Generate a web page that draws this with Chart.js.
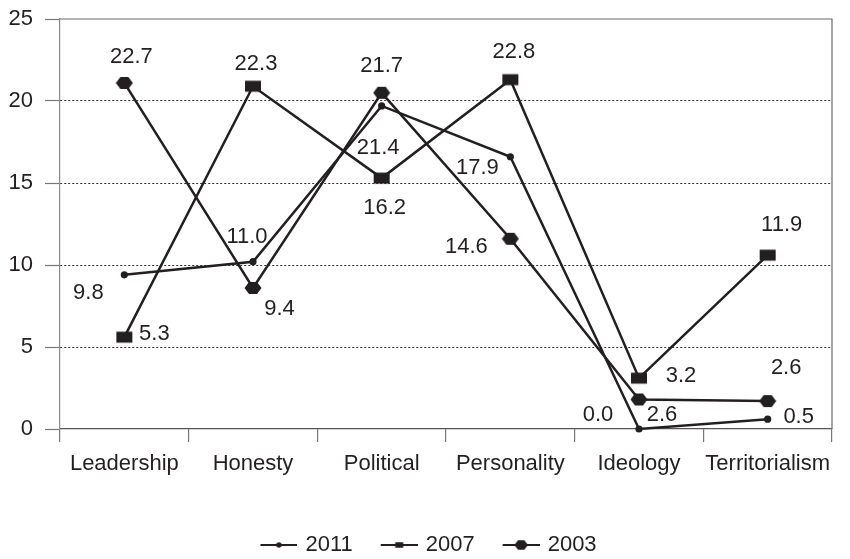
<!DOCTYPE html>
<html><head><meta charset="utf-8">
<script src="https://cdn.jsdelivr.net/npm/chart.js@4"></script>
<style>html,body{margin:0;padding:0;background:#fff;overflow:hidden}#wrap{width:850px;height:559px}</style>
</head><body><div id="wrap"><canvas id="c" width="850" height="559"></canvas></div>
<script>
// ---- data ----
const categories = ['Leadership', 'Honesty', 'Political', 'Personality', 'Ideology', 'Territorialism'];
const seriesNames = ['2011', '2007', '2003'];
const values2011 = [9.4, 10.2, 19.7, 16.6, 0.0, 0.6];
const values2007 = [5.6, 20.9, 15.3, 21.3, 3.1, 10.6];
const values2003 = [21.1, 8.6, 20.5, 11.6, 1.8, 1.7];
const labels2011 = ['9.8', '11.0', '21.4', '17.9', '0.0', '0.5'];
const labels2007 = ['5.3', '22.3', '16.2', '22.8', '3.2', '11.9'];
const labels2003 = ['22.7', '9.4', '21.7', '14.6', '2.6', '2.6'];
const yTickValues = [0, 5, 10, 15, 20, 25];

// ---- style ----
const INK = '#231f20';
const FONT = "'Liberation Sans', Arial, Helvetica, sans-serif";
const FS = 22;
const labelOffsets = [
  [[-36, 16], [-6, -27], [-3.5, 40], [-33, 9], [-41, -16], [31, -4]],
  [[30, -5], [3, -24], [3, 28], [3.5, -30], [42, -4], [14, -32]],
  [[7, -27.5], [26.5, 19], [0, -29], [-44, 6], [23, 14], [18.5, -35]]
];

function drawMarker(ctx, kind, cx, cy, s) {
  ctx.fillStyle = INK;
  ctx.beginPath();
  if (kind === 'dot') {
    ctx.arc(cx, cy, 3.6 * s, 0, Math.PI * 2);
  } else if (kind === 'rect') {
    ctx.rect(cx - 8 * s, cy - 5.5 * s, 16 * s, 11 * s);
  } else {
    ctx.moveTo(cx - 8.5 * s, cy); ctx.lineTo(cx - 4 * s, cy - 6 * s); ctx.lineTo(cx + 4 * s, cy - 6 * s);
    ctx.lineTo(cx + 8.5 * s, cy); ctx.lineTo(cx + 4 * s, cy + 6 * s); ctx.lineTo(cx - 4 * s, cy + 6 * s);
    ctx.closePath();
  }
  ctx.fill();
}
function markerCanvas(kind) {
  const c = document.createElement('canvas');
  c.width = 18; c.height = 14;
  drawMarker(c.getContext('2d'), kind, 9, 7, 1);
  return c;
}
const legendScale = { dot: 0.75, rect: 0.5, hex: 0.8 };
function legendCanvas(kind) {
  const c = document.createElement('canvas');
  c.width = 65; c.height = 14;
  const g = c.getContext('2d');
  g.strokeStyle = INK; g.lineWidth = 2;
  g.beginPath(); g.moveTo(28, 7); g.lineTo(65, 7); g.stroke();
  drawMarker(g, kind, 46.5, 7, legendScale[kind]);
  return c;
}
const kinds = ['dot', 'rect', 'hex'];
const markers = kinds.map(k => k === 'dot' ? 'circle' : markerCanvas(k));
const legendMarks = kinds.map(legendCanvas);
const allValues = [values2011, values2007, values2003];
const allLabels = [labels2011, labels2007, labels2003];

const dataLabelPlugin = {
  id: 'dataLabels',
  afterDatasetsDraw(chart) {
    const ctx = chart.ctx;
    ctx.save();
    ctx.font = FS + 'px ' + FONT;
    ctx.fillStyle = INK;
    ctx.textAlign = 'center';
    ctx.textBaseline = 'alphabetic';
    chart.data.datasets.forEach((ds, di) => {
      const meta = chart.getDatasetMeta(di);
      meta.data.forEach((pt, i) => {
        const off = labelOffsets[di][i];
        ctx.fillText(allLabels[di][i], pt.x + off[0], pt.y + off[1] + 8);
      });
    });
    ctx.restore();
  }
};
const framePlugin = {
  id: 'frame',
  beforeDatasetsDraw(chart) {
    const a = chart.chartArea, ctx = chart.ctx;
    ctx.save();
    ctx.strokeStyle = '#6a6a6a'; ctx.lineWidth = 1.2;
    ctx.beginPath();
    ctx.moveTo(a.left, a.top); ctx.lineTo(a.right, a.top); ctx.lineTo(a.right, a.bottom);
    ctx.stroke();
    ctx.restore();
  }
};

new Chart(document.getElementById('c'), {
  type: 'line',
  data: {
    labels: categories,
    datasets: seriesNames.map((name, i) => ({
      label: name,
      data: allValues[i],
      borderColor: INK,
      backgroundColor: INK,
      borderWidth: 2.5,
      tension: 0,
      fill: false,
      pointStyle: markers[i],
      pointRadius: i === 0 ? 3.6 : 8,
      pointHoverRadius: i === 0 ? 3.6 : 8,
      pointBorderWidth: 0,
      pointBackgroundColor: INK,
      clip: false
    }))
  },
  plugins: [framePlugin, dataLabelPlugin],
  options: {
    responsive: false,
    animation: false,
    devicePixelRatio: 1,
    layout: { padding: { left: 0, right: 18, top: 19, bottom: -7 } },
    plugins: {
      tooltip: { enabled: false },
      legend: {
        position: 'bottom',
        labels: {
          usePointStyle: true,
          pointStyleWidth: 59,
          boxHeight: 14,
          padding: 3,
          color: INK,
          font: { family: FONT, size: FS },
          generateLabels: (chart) => chart.data.datasets.map((ds, i) => ({
            text: ds.label, pointStyle: legendMarks[i], datasetIndex: i,
            hidden: false, lineWidth: 0, strokeStyle: 'rgba(0,0,0,0)', fillStyle: 'rgba(0,0,0,0)', fontColor: INK
          }))
        }
      }
    },
    scales: {
      x: {
        offset: true,
        grid: { display: true, offset: true, drawOnChartArea: false, drawTicks: true, tickLength: 13, tickColor: '#777', lineWidth: 1.2 },
        border: { display: true, color: '#555', width: 1.3 },
        ticks: { color: INK, font: { family: FONT, size: FS }, padding: 9, maxRotation: 0, autoSkip: false },
        afterFit: (s) => { s.height = 102; s.paddingLeft = 0; s.paddingRight = 0; }
      },
      y: {
        min: 0, max: 25,
        afterBuildTicks: (s) => { s.ticks = yTickValues.map(v => ({ value: v })); },
        grid: {
          color: (c) => (c.tick && (c.tick.value === 0 || c.tick.value === 25)) ? 'rgba(0,0,0,0)' : '#333',
          lineWidth: 1, drawTicks: true, tickLength: 15, tickColor: '#777', tickBorderDash: [], tickWidth: 1.2
        },
        border: { display: true, color: '#8a8a8a', width: 1.2, dash: [2, 2] },
        ticks: { color: INK, font: { family: FONT, size: FS }, padding: 12 },
        afterFit: (s) => { s.width = 60; s.paddingTop = 0; s.paddingBottom = 0; }
      }
    }
  }
});
</script>
</body></html>
